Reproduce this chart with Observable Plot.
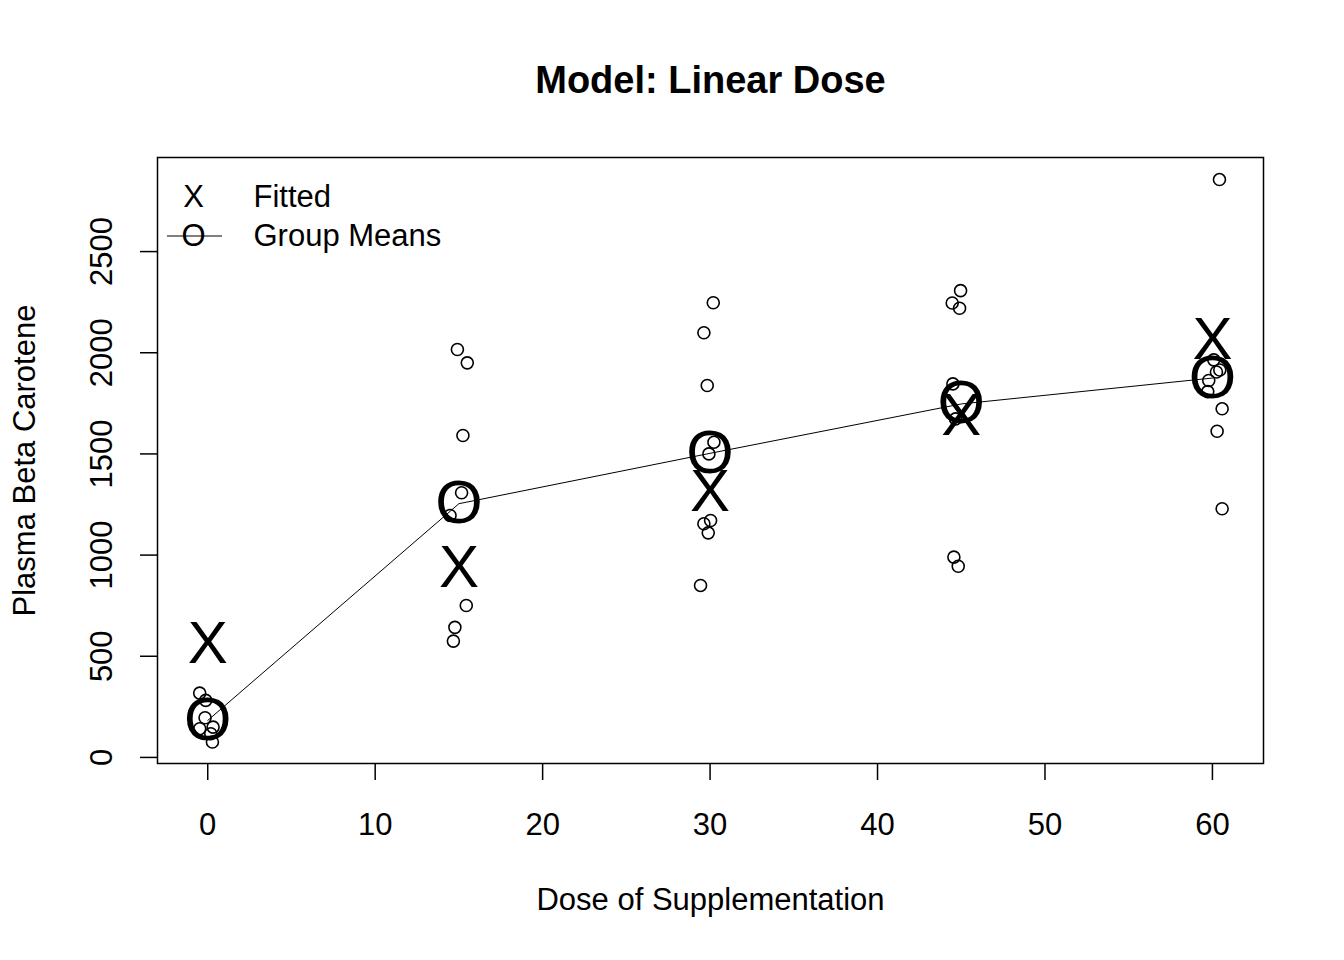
<!DOCTYPE html>
<html><head><meta charset="utf-8">
<script src="https://cdn.jsdelivr.net/npm/d3@7"></script>
<script src="https://cdn.jsdelivr.net/npm/@observablehq/plot@0.6"></script>
<style>body{margin:0;background:#fff;} #chart svg{display:block;}</style>
</head><body><div id="chart"></div>
<script>
// ---- data ----
const doses = [0, 15, 30, 45, 60];
const groupMeans = [183, 1254, 1503, 1747, 1875];
const fittedValues = [563, 938, 1313, 1688, 2063];

// individual observations (x already jittered around the dose, as plotted)
const obsX = [
  -0.48, -0.12, -0.16, -0.48, 0.32, 0.18, 0.28,
  14.91, 15.50, 15.24, 15.16, 14.47, 15.44, 14.76, 14.67,
  30.19, 29.63, 29.83, 30.23, 29.93, 30.03, 29.63, 29.89, 29.43,
  44.96, 44.46, 44.90, 44.50, 44.66, 44.56, 44.82,
  60.42, 60.08, 60.44, 60.24, 59.78, 59.72, 60.58, 60.28, 60.58
];
const obsY = [
  318, 282, 196, 142, 150, 117, 76,
  2016, 1950, 1591, 1308, 1196, 751, 643, 575,
  2247, 2099, 1838, 1558, 1500, 1171, 1155, 1110, 850,
  2307, 2246, 2220, 1846, 1673, 990, 945,
  2856, 1965, 1915, 1905, 1863, 1808, 1723, 1612, 1229
];

const xTicks = [0, 10, 20, 30, 40, 50, 60];
const yTicks = [0, 500, 1000, 1500, 2000, 2500];

const titleText = "Model: Linear Dose";
const xLabel = "Dose of Supplementation";
const yLabel = "Plasma Beta Carotene";
const legendLabels = ["Fitted", "Group Means"];

// ---- tables built from the arrays ----
const obs = obsX.map((x, i) => ({x, y: obsY[i]}));
const means = doses.map((d, i) => ({dose: d, value: groupMeans[i]}));
const fits = doses.map((d, i) => ({dose: d, value: fittedValues[i]}));

const FONT = "'Liberation Sans', Arial, Helvetica, sans-serif";

const chart = Plot.plot({
  width: 1344,
  height: 960,
  marginLeft: 157,
  marginRight: 81,
  marginTop: 157,
  marginBottom: 197,
  style: {fontFamily: FONT, background: "white", color: "black"},
  x: {domain: [-3.0, 63.05]},
  y: {domain: [-30, 2965]},
  marks: [
    Plot.frame({stroke: "black", strokeWidth: 1.5}),
    Plot.axisX(xTicks, {tickSize: 17, tickPadding: 32, fontSize: 31, strokeWidth: 1.5, label: null, tickFormat: (d) => String(d)}),
    Plot.axisY(yTicks, {tickSize: 17, tickPadding: 29, tickRotate: -90, fontSize: 31, strokeWidth: 1.5, label: null, tickFormat: (d) => String(d)}),
    Plot.dot(obs, {x: "x", y: "y", r: 6, stroke: "black", strokeWidth: 1.6, fill: "none"}),
    Plot.line(means, {x: "dose", y: "value", stroke: "black", strokeWidth: 1}),
    Plot.text(means, {x: "dose", y: "value", text: () => "O", fontSize: 61, fill: "black"}),
    Plot.text(fits, {x: "dose", y: "value", text: () => "X", fontSize: 60, fill: "black"}),
    // title and axis labels
    Plot.text([titleText], {frameAnchor: "top", dy: -77, lineAnchor: "middle", fontSize: 38, fontWeight: "bold", fill: "black"}),
    Plot.text([xLabel], {frameAnchor: "bottom", dy: 137, lineAnchor: "middle", fontSize: 31, fill: "black"}),
    Plot.text([yLabel], {frameAnchor: "left", dx: -132, rotate: -90, textAnchor: "middle", lineAnchor: "middle", fontSize: 31, fill: "black"}),
    // legend
    Plot.text(["X"], {frameAnchor: "top-left", dx: 36, dy: 40, textAnchor: "middle", lineAnchor: "middle", fontSize: 31, fill: "black"}),
    Plot.text(["O"], {frameAnchor: "top-left", dx: 36, dy: 79, textAnchor: "middle", lineAnchor: "middle", fontSize: 31, fill: "black"}),
    Plot.text([legendLabels[0]], {frameAnchor: "top-left", dx: 96, dy: 40, textAnchor: "start", lineAnchor: "middle", fontSize: 31, fill: "black"}),
    Plot.text([legendLabels[1]], {frameAnchor: "top-left", dx: 96, dy: 79, textAnchor: "start", lineAnchor: "middle", fontSize: 31, fill: "black"})
  ]
});

// legend line segment through the "O" symbol
d3.select(chart).append("line")
  .attr("x1", 167).attr("x2", 222)
  .attr("y1", 236).attr("y2", 236)
  .attr("stroke", "black").attr("stroke-width", 1);

document.getElementById("chart").appendChild(chart);
</script>
</body></html>
